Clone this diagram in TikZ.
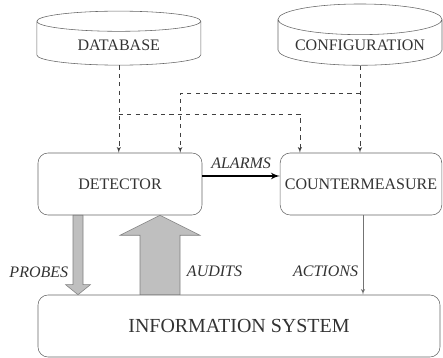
\documentclass[tikz,border=0pt]{standalone}
\usepackage{fontspec}
\setmainfont{Liberation Serif}
\usetikzlibrary{arrows,calc,shapes.geometric}

\begin{document}
\begin{tikzpicture}[>=latex',
      store/.style={cylinder,shape border rotate=90,draw=black!60,aspect=0.22,
        minimum width=4.1cm,minimum height=1.35cm,text=black!80,
        font=\fontsize{11.4}{13}\selectfont},
      unit/.style={rectangle,rounded corners=0.25cm,draw=black!60,
        minimum height=1.55cm,text=black!80,font=\fontsize{11.4}{13}\selectfont},
      flow/.style={->,dashed,black!75},
      lbl/.style={text=black!80,font=\fontsize{11.4}{13}\selectfont\itshape},
      fat/.style={fill=black!25,draw=black!50}]
      \useasboundingbox (0,0) rectangle (11.075,8.95);

      \node[store] (db) at (2.97,7.825) {DATABASE};
      \node[store] (conf) at (9.0,7.825) {CONFIGURATION};
      \node[unit,minimum width=4.1cm] (det) at (3.0,4.35) {DETECTOR};
      \node[unit,minimum width=3.95cm] (cm) at (9.025,4.35) {COUNTERMEASURE};
      \node[unit,minimum width=10.05cm,font=\fontsize{14.2}{16}\selectfont]
        (is) at (5.975,0.8) {INFORMATION SYSTEM};

      % dashed feeds from the stores
      \coordinate (dbsplit) at (db.south |- 0,6.1);
      \coordinate (confsplit) at (conf.south |- 0,6.625);
      \draw[flow] (db.south) -- (db.south |- det.north);
      \draw[flow] (dbsplit) -| ($(cm.north west)+(0.5,0)$);
      \draw[flow] (conf.south) -- (conf.south |- cm.north);
      \draw[flow] (confsplit) -| ($(det.north east)+(-0.55,0)$);

      \draw[->,very thick] ($(det.east)+(0,0.2)$) --
        node[lbl,above,yshift=1pt] (alarms) {ALARMS} ($(cm.west)+(0,0.2)$);

      % probes
      \coordinate (prtop) at ($(det.south)+(-1.05,0)$);
      \coordinate (prend) at (prtop |- is.north);
      \draw[fat] ($(prtop)+(-0.125,0)$) -- ($(prtop)+(0.125,0)$)
        -- ($(prend)+(0.125,0.25)$) -- ($(prend)+(0.31,0.25)$) -- (prend)
        -- ($(prend)+(-0.31,0.25)$) -- ($(prend)+(-0.125,0.25)$) -- cycle;
      \node[lbl,anchor=east] (probes) at ($(prtop)+(-0.12,-1.425)$) {PROBES};

      % audits
      \coordinate (autop) at ($(det.south)+(1.0,0)$);
      \coordinate (aubase) at (autop |- is.north);
      \draw[fat] ($(aubase)+(-0.5,0)$) -- ($(autop)+(-0.5,-0.5)$)
        -- ($(autop)+(-1.0,-0.5)$) -- (autop) -- ($(autop)+(1.0,-0.5)$)
        -- ($(autop)+(0.5,-0.5)$) -- ($(aubase)+(0.5,0)$) -- cycle;
      \node[lbl,anchor=west] (audits) at ($(aubase)+(0.55,0.575)$) {AUDITS};

      % actions
      \draw[->,black!55] ($(cm.south)+(0.05,0)$) --
        node[lbl,left,pos=0.71] (actions) {ACTIONS} ($(cm.south |- is.north)+(0.05,0)$);
\end{tikzpicture}
\end{document}
